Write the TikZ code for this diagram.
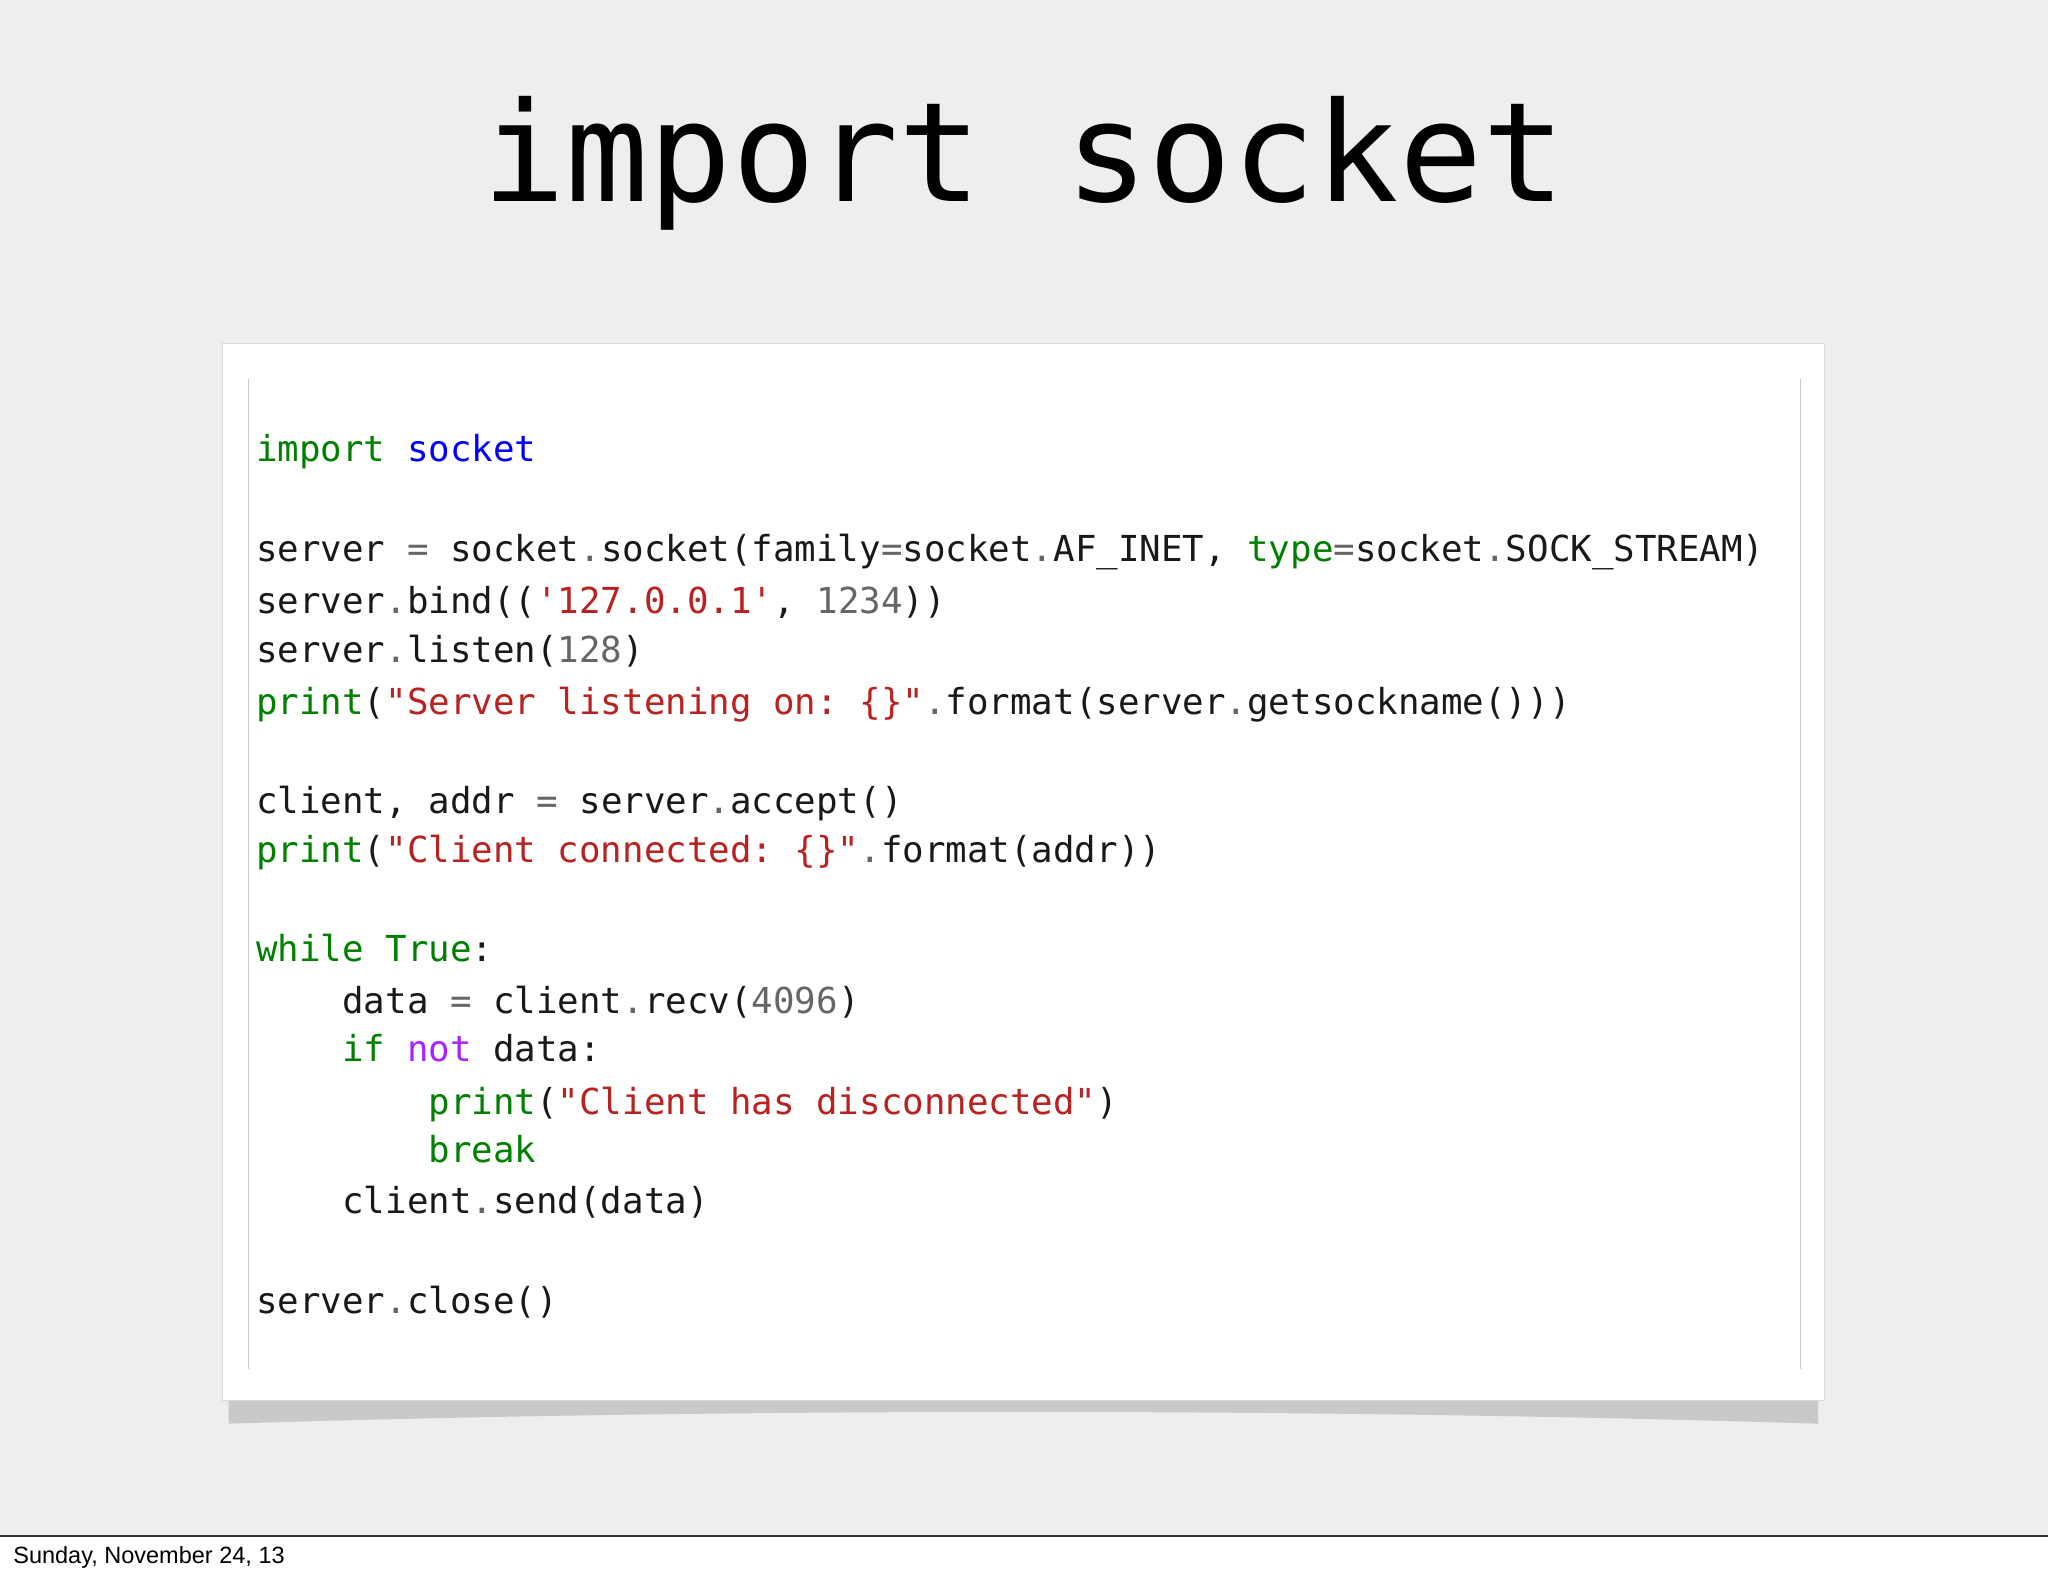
\documentclass[tikz,border=0pt]{standalone}
\usepackage{fontspec}
\setmonofont{DejaVu Sans Mono}
\setsansfont{Liberation Sans}
\usetikzlibrary{shadows}
\definecolor{kw}{RGB}{0,128,0}
\definecolor{nm}{RGB}{0,0,255}
\definecolor{st}{RGB}{186,33,33}
\definecolor{num}{RGB}{102,102,102}
\definecolor{op}{RGB}{170,34,255}
\definecolor{bg}{RGB}{238,238,238}
\newcommand{\cK}[1]{\textcolor{kw}{#1}}
\newcommand{\cN}[1]{\textcolor{nm}{#1}}
\newcommand{\cS}[1]{\textcolor{st}{#1}}
\newcommand{\cG}[1]{\textcolor{num}{#1}}
\newcommand{\cP}[1]{\textcolor{op}{#1}}
\begin{document}
\begin{tikzpicture}[x=1pt,y=-1pt,
 code/.style={anchor=base west,inner sep=0pt,font=\ttfamily\fontsize{27.4}{30}\selectfont,text=black!90}]
\useasboundingbox (0,0) rectangle (1568,1207);
\fill[bg] (0,0) rectangle (1568,1176);
\fill[white] (0,1176) rectangle (1568,1207);
\draw[black!80,line width=1pt] (0,1176) -- (1568,1176);
\node[anchor=base west,inner sep=0pt,font=\sffamily\fontsize{18}{20}\selectfont] (foot) at (10,1197) {Sunday, November 24, 13};
\node[anchor=base,inner sep=0pt,font=\ttfamily\fontsize{106}{110}\selectfont] (title) at (784,154) {import socket};
\fill[black!35,opacity=0.5] (175,1068) -- (1392,1068) -- (1392,1090) .. controls (1000,1078) and (560,1078) .. (175,1090) -- cycle;
\node[draw=black!15,fill=white,minimum width=1227pt,minimum height=809pt,inner sep=0pt] (box) at (783.5,667.5) {};
\draw[black!20] (190,290) -- (190,1048);
\draw[black!20] (1378,290) -- (1378,1048);
\node[code] (l1) at (196,353) {\cK{import} \cN{socket}};
\node[code] (l2) at (196,430) {server \cG{=} socket\cG{.}socket(family\cG{=}socket\cG{.}AF\_INET, \cK{type}\cG{=}socket\cG{.}SOCK\_STREAM)};
\node[code] (l3) at (196,470) {server\cG{.}bind((\cS{'127.0.0.1'}, \cG{1234}))};
\node[code] (l4) at (196,507) {server\cG{.}listen(\cG{128})};
\node[code] (l5) at (196,547) {\cK{print}(\cS{"Server listening on: \{\}"}\cG{.}format(server\cG{.}getsockname()))};
\node[code] (l6) at (196,623) {client, addr \cG{=} server\cG{.}accept()};
\node[code] (l7) at (196,660) {\cK{print}(\cS{"Client connected: \{\}"}\cG{.}format(addr))};
\node[code] (l8) at (196,736) {\cK{while} \cK{True}:};
\node[code] (l9) at (196,776) {\hphantom{xxxx}data \cG{=} client\cG{.}recv(\cG{4096})};
\node[code] (l10) at (196,813) {\hphantom{xxxx}\cK{if} \cP{not} data:};
\node[code] (l11) at (196,853) {\hphantom{xxxxxxxx}\cK{print}(\cS{"Client has disconnected"})};
\node[code] (l12) at (196,890) {\hphantom{xxxxxxxx}\cK{break}};
\node[code] (l13) at (196,929) {\hphantom{xxxx}client\cG{.}send(data)};
\node[code] (l14) at (196,1006) {server\cG{.}close()};
\end{tikzpicture}
\end{document}
